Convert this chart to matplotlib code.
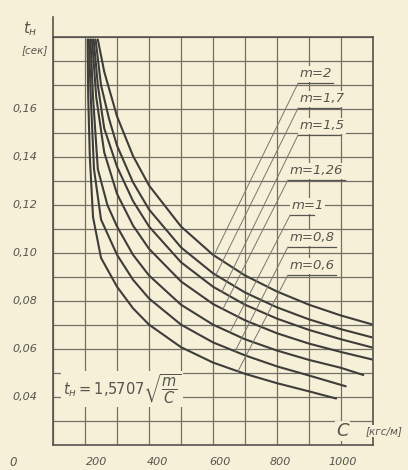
import numpy as np
import matplotlib
matplotlib.use("Agg")
import matplotlib.pyplot as plt

# t_н = 1.5707*sqrt(m/C)
m_labels = ["m=2", "m=1,7", "m=1,5", "m=1,26", "m=1", "m=0,8", "m=0,6"]

c_m2 = [140, 160, 200, 250, 300, 400, 500, 600, 700, 800, 900, 1000]
t_m2 = [0.189, 0.1756, 0.157, 0.1405, 0.1282, 0.1111, 0.0993, 0.0907, 0.0840, 0.0785, 0.0740, 0.0702]

c_m17 = [133, 150, 175, 200, 250, 300, 400, 500, 600, 700, 800, 900, 1000]
t_m17 = [0.189, 0.170, 0.156, 0.1448, 0.1295, 0.1182, 0.1024, 0.0916, 0.0836, 0.0774, 0.0724, 0.0683, 0.0648]

c_m15 = [127, 140, 160, 200, 250, 300, 400, 500, 600, 700, 800, 900, 1000]
t_m15 = [0.189, 0.170, 0.152, 0.1360, 0.1217, 0.1111, 0.0962, 0.0860, 0.0785, 0.0727, 0.0680, 0.0641, 0.0606]

c_m126 = [122, 135, 160, 200, 250, 300, 400, 500, 600, 700, 800, 900, 1000]
t_m126 = [0.189, 0.165, 0.142, 0.1247, 0.1115, 0.1018, 0.0882, 0.0788, 0.0720, 0.0666, 0.0623, 0.0588, 0.0556]

c_m1 = [117, 125, 140, 170, 200, 250, 300, 400, 500, 600, 700, 800, 900, 970]
t_m1 = [0.189, 0.165, 0.135, 0.120, 0.1111, 0.0993, 0.0907, 0.0785, 0.0702, 0.0641, 0.0594, 0.0555, 0.0522, 0.0492]

c_m08 = [112, 118, 128, 150, 200, 250, 300, 400, 500, 600, 700, 800, 915]
t_m08 = [0.189, 0.165, 0.135, 0.114, 0.0993, 0.0889, 0.0811, 0.0702, 0.0628, 0.0574, 0.0528, 0.0490, 0.0445]

c_m06 = [108, 110, 115, 125, 150, 200, 250, 300, 400, 500, 600, 700, 800, 885]
t_m06 = [0.189, 0.165, 0.140, 0.115, 0.098, 0.0860, 0.0770, 0.0702, 0.0608, 0.0544, 0.0497, 0.0458, 0.0424, 0.0394]

curves = [(c_m2, t_m2), (c_m17, t_m17), (c_m15, t_m15), (c_m126, t_m126),
          (c_m1, t_m1), (c_m08, t_m08), (c_m06, t_m06)]

y_ticks = [0.04, 0.06, 0.08, 0.10, 0.12, 0.14, 0.16]
y_tick_labels = ["0,04", "0,06", "0,08", "0,10", "0,12", "0,14", "0,16"]
x_tick_labels = ["200", "400", "600", "800", "1000"]

# where the hand lettering sits (data coords)
x_label_pos = [137, 328, 522, 709, 906]
lab_x = [766, 766, 766, 734, 741, 734, 734]
lab_y = [0.1708, 0.1604, 0.1492, 0.1304, 0.1158, 0.1025, 0.0908]
ul_len = [110, 130, 130, 180, 75, 150, 150]
lead_c = [503, 509, 528, 531, 553, 569, 578]

bg = "#f7f0d8"
ink = "#3d3d3a"
grid_col = "#707068"
txt = "#55554f"

fig = plt.figure(figsize=(4.08, 4.70), dpi=100)
fig.patch.set_facecolor(bg)
ax = fig.add_axes([0.130, 0.053, 0.784, 0.868])
ax.set_facecolor(bg)

ax.set_xlim(0, 1000)
ax.set_ylim(0.02, 0.19)
ax.set_xticks(np.arange(0, 1001, 100))
ax.set_yticks(np.round(np.arange(0.02, 0.191, 0.01), 2))
ax.set_xticklabels([])
ax.set_yticklabels([])
ax.tick_params(length=0)
ax.grid(True, color=grid_col, lw=0.9)
for s in ax.spines.values():
    s.set_color("#55554f")
    s.set_linewidth(1.2)

# left axis runs a bit above the grid
ax.plot([0, 0], [1.0, 1.05], transform=ax.transAxes, color="#55554f", lw=1.2, clip_on=False)

for c, t in curves:
    ax.plot(c, t, color=ink, lw=1.5, solid_capstyle="round")

# labels and leader lines
for i, lab in enumerate(m_labels):
    x0, y0 = lab_x[i], lab_y[i]
    ax.text(x0 + 5, y0 + 0.0012, lab, fontsize=9.5, style="italic", color=txt,
            ha="left", va="bottom",
            bbox=dict(facecolor=bg, edgecolor="none", pad=1.0))
    ax.plot([x0, x0 + ul_len[i]], [y0, y0], color=txt, lw=0.9)
    c, t = curves[i]
    te = np.interp(lead_c[i], c, t)
    ax.plot([x0, lead_c[i]], [y0, te], color="#77776f", lw=0.7)

for v, lab in zip(y_ticks, y_tick_labels):
    ax.text(-0.05, v, lab, transform=ax.get_yaxis_transform(), fontsize=8,
            style="italic", color=txt, ha="right", va="center")

for xp, lab in zip(x_label_pos, x_tick_labels):
    ax.text(xp, 0.0129, lab, fontsize=8, style="italic", color=txt,
            ha="center", va="center", clip_on=False)
ax.text(-125, 0.0129, "0", fontsize=8.5, style="italic", color=txt,
        ha="center", va="center", clip_on=False)

ax.text(-0.072, 1.022, r"$t_{н}$", transform=ax.transAxes, fontsize=11,
        color=txt, ha="center", va="center")
ax.text(-0.058, 0.968, "[сек]", transform=ax.transAxes, fontsize=7.5,
        style="italic", color=txt, ha="center", va="center")

ax.text(0.905, 0.035, "C", transform=ax.transAxes, fontsize=13, style="italic",
        color=txt, ha="center", va="center",
        bbox=dict(facecolor=bg, edgecolor="none", pad=0.5))
ax.text(1.035, 0.035, "[кгс/м]", transform=ax.transAxes, fontsize=7.5, style="italic",
        color=txt, ha="center", va="center", clip_on=False,
        bbox=dict(facecolor=bg, edgecolor="none", pad=0.5))

ax.text(0.215, 0.137, r"$t_{н} = 1{,}5707\sqrt{\dfrac{m}{C}}$", transform=ax.transAxes,
        fontsize=10.5, color=txt, ha="center", va="center",
        bbox=dict(facecolor=bg, edgecolor="none", pad=1.0))

fig.savefig("out.png", dpi=100, facecolor=bg)
